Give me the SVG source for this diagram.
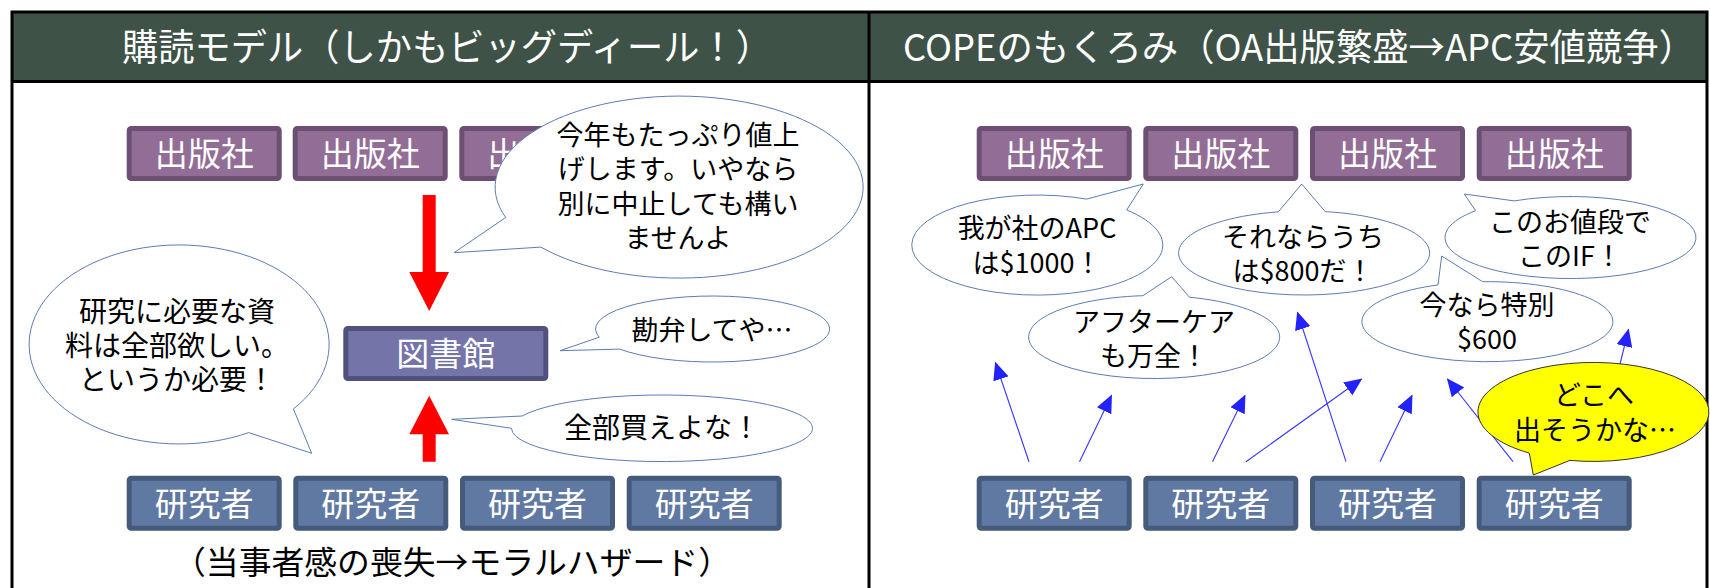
<svg xmlns="http://www.w3.org/2000/svg" width="1710" height="588" viewBox="0 0 1710 588">
<style>
text { font-family: "Noto Sans CJK JP", "Noto Sans", sans-serif; text-anchor: middle; }
.title { fill: #ffffff; font-size: 37px; }
.bx { fill: #ffffff; font-size: 33px; }
.bt { fill: #000000; font-size: 27px; }
.bt28 { fill: #000000; font-size: 28px; }
.cap { fill: #000000; font-size: 32px; }
.pub rect { fill: #926E96; stroke: #6C4F72; stroke-width: 5; }
.res rect { fill: #5F79A3; stroke: #465A7B; stroke-width: 5; }
.lib rect { fill: #7474A9; stroke: #515180; stroke-width: 5; }
.bub { fill: #ffffff; stroke: #5B7DB5; stroke-width: 1; }
.yb { fill: #FFFF00; stroke: #333333; stroke-width: 1; }
.blue { stroke: #3535FF; stroke-width: 1.1; fill: none; marker-end: url(#bh); }
.red { fill: #FF0000; }
.frame { stroke: #000000; stroke-width: 3; fill: none; }
</style>
<defs>
<marker id="bh" markerUnits="userSpaceOnUse" viewBox="0 0 18 16" markerWidth="18" markerHeight="16" refX="17" refY="8" orient="auto">
<path d="M0,0 L18,8 L0,16 Z" fill="#2222FF"/>
</marker>
</defs>
<rect x="0" y="0" width="1710" height="588" fill="#ffffff"/>

<g id="frame">
<rect x="12" y="12" width="1695" height="70" fill="#3E5247"/>
<path class="frame" d="M12,620 V12 H1707 V620 M12,81.5 H1707 M869,12 V620"/>
</g>

<g id="title-left"><text class="title" x="447" y="61" textLength="650" lengthAdjust="spacingAndGlyphs">購読モデル（しかもビッグディール！）</text></g>
<g id="title-right"><text class="title" x="1299" y="61" textLength="792" lengthAdjust="spacingAndGlyphs">COPEのもくろみ（OA出版繁盛→APC安値競争）</text></g>

<!-- left panel nodes -->
<g id="pub-l1" class="pub"><rect x="129.2" y="128.5" width="150" height="50" rx="2"/><text class="bx" x="204.2" y="166">出版社</text></g>
<g id="pub-l2" class="pub"><rect x="295.2" y="128.5" width="150" height="50" rx="2"/><text class="bx" x="370.2" y="166">出版社</text></g>
<g id="pub-l3" class="pub"><rect x="461.8" y="128.5" width="150" height="50" rx="2"/><text class="bx" x="536.8" y="166">出版社</text></g>

<g id="library" class="lib"><rect x="345.8" y="328.5" width="200" height="50" rx="2"/><text class="bx" x="445.8" y="366">図書館</text></g>

<g id="res-l1" class="res"><rect x="129.2" y="478.2" width="150" height="50" rx="2"/><text class="bx" x="204.2" y="515.7">研究者</text></g>
<g id="res-l2" class="res"><rect x="295.8" y="478.2" width="150" height="50" rx="2"/><text class="bx" x="370.8" y="515.7">研究者</text></g>
<g id="res-l3" class="res"><rect x="462.5" y="478.2" width="150" height="50" rx="2"/><text class="bx" x="537.5" y="515.7">研究者</text></g>
<g id="res-l4" class="res"><rect x="629.2" y="478.2" width="150" height="50" rx="2"/><text class="bx" x="704.2" y="515.7">研究者</text></g>

<g id="caption-left"><text class="cap" x="452" y="573.5" textLength="558" lengthAdjust="spacingAndGlyphs">（当事者感の喪失→モラルハザード）</text></g>

<!-- right panel nodes -->
<g id="pub-r1" class="pub"><rect x="979.2" y="128.5" width="150" height="50" rx="2"/><text class="bx" x="1054.2" y="166">出版社</text></g>
<g id="pub-r2" class="pub"><rect x="1145.8" y="128.5" width="150" height="50" rx="2"/><text class="bx" x="1220.8" y="166">出版社</text></g>
<g id="pub-r3" class="pub"><rect x="1312.5" y="128.5" width="150" height="50" rx="2"/><text class="bx" x="1387.5" y="166">出版社</text></g>
<g id="pub-r4" class="pub"><rect x="1479.2" y="128.5" width="150" height="50" rx="2"/><text class="bx" x="1554.2" y="166">出版社</text></g>

<g id="res-r1" class="res"><rect x="979.2" y="478.2" width="150" height="50" rx="2"/><text class="bx" x="1054.2" y="515.7">研究者</text></g>
<g id="res-r2" class="res"><rect x="1145.8" y="478.2" width="150" height="50" rx="2"/><text class="bx" x="1220.8" y="515.7">研究者</text></g>
<g id="res-r3" class="res"><rect x="1312.5" y="478.2" width="150" height="50" rx="2"/><text class="bx" x="1387.5" y="515.7">研究者</text></g>
<g id="res-r4" class="res"><rect x="1479.2" y="478.2" width="150" height="50" rx="2"/><text class="bx" x="1554.2" y="515.7">研究者</text></g>

<!-- connectors -->
<g id="connectors">
<polygon class="red" points="422.7,195 435.7,195 435.7,272 449,272 429.2,311 409.3,272 422.7,272"/>
<polygon class="red" points="429.2,395.7 449,434.3 435.7,434.3 435.7,461.7 422.7,461.7 422.7,434.3 409.3,434.3"/>
<line class="blue" x1="1029" y1="461.7" x2="995.5" y2="362.7"/>
<line class="blue" x1="1079.5" y1="461.7" x2="1111.5" y2="395.5"/>
<line class="blue" x1="1212.5" y1="461.7" x2="1245" y2="395.5"/>
<line class="blue" x1="1246" y1="461.7" x2="1361.5" y2="379"/>
<line class="blue" x1="1346" y1="461.7" x2="1297.5" y2="312.5"/>
<line class="blue" x1="1380" y1="461.7" x2="1412" y2="395.5"/>
<line class="blue" x1="1513" y1="461.7" x2="1447.5" y2="379"/>
<line class="blue" x1="1596" y1="461.7" x2="1628.5" y2="329.5"/>
</g>

<!-- left panel bubbles -->
<g id="bubble-price">
<path class="bub" d="M540.8,247.1 L454,252.7 L505.7,217.5 A184,91 0 1 1 540.8,247.1 Z"/>
<text class="bt" x="678" y="145">今年もたっぷり値上</text>
<text class="bt" x="678" y="179">げします。いやなら</text>
<text class="bt" x="678" y="214">別に中止しても構い</text>
<text class="bt" x="678" y="248">ませんよ</text>
</g>
<g id="bubble-need">
<path class="bub" d="M293.4,408.9 L311.7,453.3 L248.7,432.6 A150,99.5 0 1 1 293.4,408.9 Z"/>
<text class="bt28" x="177" y="322">研究に必要な資</text>
<text class="bt28" x="177" y="356">料は全部欲しい。</text>
<text class="bt28" x="177" y="390">というか必要！</text>
</g>
<g id="bubble-mercy">
<path class="bub" d="M619.7,349.1 L560,350.7 L599.2,337.2 A117,33 0 1 1 619.7,349.1 Z"/>
<text class="bt" x="712" y="340">勘弁してや…</text>
</g>
<g id="bubble-buyall">
<path class="bub" d="M511.5,428.3 L451.7,419.3 L522.1,416 A150.5,33.3 0 1 1 511.5,428.3 Z"/>
<text class="bt28" x="662" y="438">全部買えよな！</text>
</g>

<!-- right panel bubbles -->
<g id="bubble-1000">
<path class="bub" d="M1086.6,199.1 L1143.3,184 L1126.7,210 A125.5,50 0 1 1 1086.6,199.1 Z"/>
<text class="bt" x="1037" y="238">我が社のAPC</text>
<text class="bt" x="1037" y="273">は$1000！</text>
</g>
<g id="bubble-800">
<path class="bub" d="M1278.3,211.9 L1301.7,184 L1325.2,211.6 A125.5,42 0 1 1 1278.3,211.9 Z"/>
<text class="bt" x="1303" y="247">それならうち</text>
<text class="bt" x="1303" y="281">は$800だ！</text>
</g>
<g id="bubble-if">
<path class="bub" d="M1475.6,210.7 L1464.3,194 L1514.1,200.9 A125.5,41 0 1 1 1475.6,210.7 Z"/>
<text class="bt" x="1570" y="232">このお値段で</text>
<text class="bt" x="1570" y="266">このIF！</text>
</g>
<g id="bubble-aftercare">
<path class="bub" d="M1142.9,295.7 L1171.7,276.7 L1189.4,297.2 A125.5,41.5 0 1 1 1142.9,295.7 Z"/>
<text class="bt" x="1154" y="332">アフターケア</text>
<text class="bt" x="1154" y="366">も万全！</text>
</g>
<g id="bubble-600">
<path class="bub" d="M1438,284.9 L1441.7,256 L1482.6,281.7 A125.5,40 0 1 1 1438,284.9 Z"/>
<text class="bt" x="1487" y="315">今なら特別</text>
<text class="bt" x="1487" y="349">$600</text>
</g>
<g id="bubble-where">
<path class="yb" d="M1569.9,460.4 L1533.3,475 L1529.3,453.1 A115.5,49.5 0 1 1 1569.9,460.4 Z"/>
<text class="bt" x="1594" y="405">どこへ</text>
<text class="bt" x="1595" y="440">出そうかな…</text>
</g>
</svg>
